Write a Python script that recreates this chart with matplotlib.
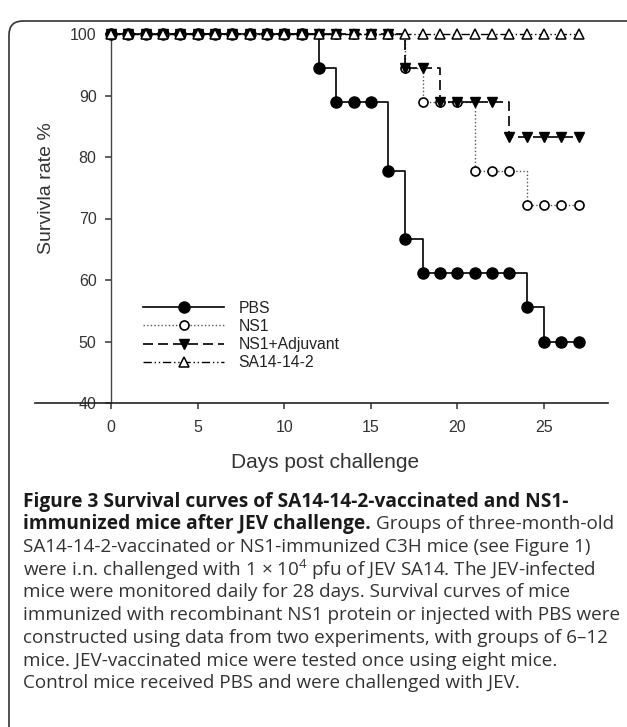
import matplotlib
matplotlib.use('Agg')
import matplotlib.pyplot as plt
from matplotlib.patches import FancyBboxPatch

# survival data (one value per day, 0..27)
days = [0, 1, 2, 3, 4, 5, 6, 7, 8, 9, 10, 11, 12, 13, 14, 15, 16, 17, 18, 19, 20, 21, 22, 23, 24, 25, 26, 27]
pbs = [100, 100, 100, 100, 100, 100, 100, 100, 100, 100, 100, 100,
       94.4, 88.9, 88.9, 88.9, 77.8, 66.7, 61.1, 61.1, 61.1, 61.1, 61.1, 61.1,
       55.6, 50, 50, 50]
ns1 = [100, 100, 100, 100, 100, 100, 100, 100, 100, 100, 100, 100, 100, 100, 100, 100, 100,
       94.4, 88.9, 88.9, 88.9, 77.8, 77.8, 77.8, 72.2, 72.2, 72.2, 72.2]
ns1_adj = [100, 100, 100, 100, 100, 100, 100, 100, 100, 100, 100, 100, 100, 100, 100, 100, 100,
           94.4, 94.4, 88.9, 88.9, 88.9, 88.9, 83.3, 83.3, 83.3, 83.3, 83.3]
sa14 = [100, 100, 100, 100, 100, 100, 100, 100, 100, 100, 100, 100, 100, 100,
        100, 100, 100, 100, 100, 100, 100, 100, 100, 100, 100, 100, 100, 100]

labels = ['PBS', 'NS1', 'NS1+Adjuvant', 'SA14-14-2']
x_ticks = [0, 5, 10, 15, 20, 25]
y_ticks = [40, 50, 60, 70, 80, 90, 100]

caption_bold = ['Figure 3 Survival curves of SA14-14-2-vaccinated and NS1-',
                'immunized mice after JEV challenge.']
caption_rest = ['Groups of three-month-old',
                'SA14-14-2-vaccinated or NS1-immunized C3H mice (see Figure 1)',
                r'were i.n. challenged with 1 × $\mathregular{10^4}$ pfu of JEV SA14. The JEV-infected',
                'mice were monitored daily for 28 days. Survival curves of mice',
                'immunized with recombinant NS1 protein or injected with PBS were',
                'constructed using data from two experiments, with groups of 6–12',
                'mice. JEV-vaccinated mice were tested once using eight mice.',
                'Control mice received PBS and were challenged with JEV.']

W, H = 627, 727
fig = plt.figure(figsize=(W / 100, H / 100), dpi=100)

# axes placed so the x-axis line runs from px 35 to 608, y from 100 (px 34) to 40 (px 403)
ax = fig.add_axes([35 / W, 1 - 403 / H, (608 - 35) / W, (403 - 34) / H])
ax.set_xlim(-4.4, 28.7)
ax.set_ylim(40, 100)

ax.plot(days, pbs, drawstyle='steps-post', color='black', lw=1.2, ls='-',
        marker='o', ms=8, mfc='black', mec='black', clip_on=False, label=labels[0], zorder=3)
ax.plot(days, ns1, drawstyle='steps-post', color='#555555', lw=1.0, ls=(0, (1, 1.6)),
        marker='o', ms=6.5, mfc='white', mec='black', mew=1.2, clip_on=False, label=labels[1], zorder=4)
ax.plot(days, ns1_adj, drawstyle='steps-post', color='black', lw=1.2, ls=(0, (6, 3)),
        marker='v', ms=7.5, mfc='black', mec='black', clip_on=False, label=labels[2], zorder=5)
ax.plot(days, sa14, drawstyle='steps-post', color='black', lw=1.0, ls=(0, (6, 2, 1, 2, 1, 2)),
        marker='^', ms=7, mfc='white', mec='black', mew=1.1, clip_on=False, label=labels[3], zorder=6)

for s in ['top', 'right']:
    ax.spines[s].set_visible(False)
ax.spines['left'].set_position(('data', 0))
ax.spines['left'].set_color('#444444')
ax.spines['bottom'].set_color('#222222')
ax.spines['left'].set_linewidth(1.0)
ax.spines['bottom'].set_linewidth(1.2)

ax.set_xticks(x_ticks)
ax.set_yticks(y_ticks)
ax.tick_params(direction='out', length=4, width=1.1, colors='#333333', labelsize=11.5)
ax.tick_params(axis='x', pad=8.5)
ax.tick_params(axis='y', pad=6.5)
for t in ax.get_xticklabels() + ax.get_yticklabels():
    t.set_fontfamily('Liberation Sans')

fig.text(325 / W, 1 - 462 / H, 'Days post challenge', ha='center', va='center',
         fontsize=15, family='Liberation Sans', color='#333333')
fig.text(47 / W, 1 - 188 / H, 'Survivla rate %', ha='center', va='center', rotation=90,
         fontsize=14, family='Liberation Sans', color='#333333')

leg = ax.legend(loc='upper left', bbox_to_anchor=(135 / W, 1 - 293 / H), bbox_transform=fig.transFigure,
                frameon=False, prop={'family': 'Liberation Sans', 'size': 11.3},
                handlelength=5.2, handletextpad=0.9, labelspacing=0.2, borderpad=0, numpoints=1)
for t in leg.get_texts():
    t.set_color('#222222')

# rounded frame around the figure panel
frame = FancyBboxPatch((9, -30), 660, H - 12 + 30 - 9, boxstyle='round,pad=0,rounding_size=14',
                       transform=None, fill=False, ec='#333333', lw=1.2)
fig.add_artist(frame)

# caption
cap_font = 'Open Sans'
cap_size = 13.6
line_y = [502, 524, 547, 570, 592, 615, 638, 661, 683]
bold_txts = []
for i, line in enumerate(caption_bold):
    bold_txts.append(fig.text(23 / W, 1 - line_y[i] / H, line, ha='left', va='center',
                              fontsize=13.8, family=cap_font, weight='bold', color='#1a1a1a'))
fig.canvas.draw()
bb = bold_txts[1].get_window_extent(fig.canvas.get_renderer())
fig.text((bb.x1 + 5) / W, 1 - line_y[1] / H, caption_rest[0], ha='left', va='center',
         fontsize=cap_size, family=cap_font, color='#333333')
for i, line in enumerate(caption_rest[1:]):
    fig.text(23 / W, 1 - line_y[i + 2] / H, line, ha='left', va='center',
             fontsize=cap_size, family=cap_font, color='#333333')

fig.savefig('out.png', dpi=100)
